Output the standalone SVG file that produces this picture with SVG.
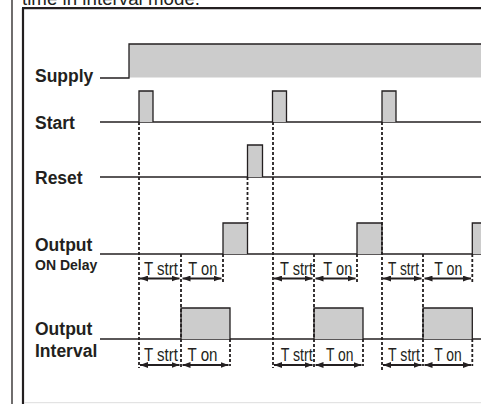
<svg xmlns="http://www.w3.org/2000/svg" width="481" height="404" viewBox="0 0 481 404">
<defs>
<style>
.lbl{font-family:"Liberation Sans",Arial,sans-serif;font-weight:bold;font-size:17.5px;fill:#231f20}
.sm{font-family:"Liberation Sans",Arial,sans-serif;font-weight:bold;font-size:14px;fill:#231f20}
.t{font-family:"Liberation Sans",Arial,sans-serif;font-size:19px;fill:#231f20}
.sig{fill:none;stroke:#231f20;stroke-width:1.3}
.pulse{fill:#cccccc;stroke:#231f20;stroke-width:1.3}
.dash{stroke:#231f20;stroke-width:1.8;stroke-dasharray:3 2;fill:none}
.arr{stroke:#231f20;stroke-width:2;fill:none;marker-start:url(#ah);marker-end:url(#ah)}
</style>
<marker id="ah" viewBox="0 0 8 6" refX="8" refY="3" markerWidth="8" markerHeight="6" orient="auto-start-reverse" markerUnits="userSpaceOnUse">
<path d="M0,0 L8,3 L0,6 z" fill="#231f20"/>
</marker>
</defs>
<rect width="481" height="404" fill="#ffffff"/>
<g id="frame">
<text class="t" x="22" y="4.5" textLength="178" lengthAdjust="spacingAndGlyphs">time in interval mode.</text>
<line x1="12" y1="0" x2="12" y2="404" stroke="#231f20" stroke-width="1.3"/>
<line x1="23" y1="8" x2="23" y2="404" stroke="#231f20" stroke-width="2.2"/>
<line x1="22" y1="8.2" x2="481" y2="8.2" stroke="#231f20" stroke-width="2.2"/>
<line x1="24" y1="402.7" x2="481" y2="402.7" stroke="#dddddd" stroke-width="1"/>
</g>
<g id="supply">
<text class="lbl" x="35" y="81.5">Supply</text>
<rect x="129" y="44" width="353" height="33.5" fill="#cccccc"/>
<path class="sig" d="M100,78 H129 V44 H482"/>
</g>
<g id="start">
<text class="lbl" x="35" y="129">Start</text>
<line class="sig" x1="100" y1="122" x2="481" y2="122"/>
<path class="pulse" d="M139,122 V91 H153 V122"/>
<path class="pulse" d="M272.5,122 V91 H286.5 V122"/>
<path class="pulse" d="M382,122 V91 H396 V122"/>
</g>
<g id="reset">
<text class="lbl" x="35" y="184">Reset</text>
<line class="sig" x1="100" y1="177" x2="481" y2="177"/>
<path class="pulse" d="M247.5,177 V145 H262.5 V177"/>
</g>
<g id="output-on-delay">
<text class="lbl" x="35" y="250.5">Output</text>
<text class="sm" x="35" y="269.5">ON Delay</text>
<line class="sig" x1="100" y1="254" x2="481" y2="254"/>
<path class="pulse" d="M223,254 V223 H247.5 V254"/>
<path class="pulse" d="M357,254 V223 H382 V254"/>
<rect x="472.3" y="223" width="10" height="31" fill="#cccccc"/>
<path class="sig" d="M472.3,254 V223 H483"/>
<text class="t" x="144" y="275" textLength="34" lengthAdjust="spacingAndGlyphs">T strt</text>
<text class="t" x="188.3" y="275" textLength="29" lengthAdjust="spacingAndGlyphs">T on</text>
<text class="t" x="280" y="275" textLength="33" lengthAdjust="spacingAndGlyphs">T strt</text>
<text class="t" x="323.3" y="275" textLength="29" lengthAdjust="spacingAndGlyphs">T on</text>
<text class="t" x="388" y="275" textLength="31" lengthAdjust="spacingAndGlyphs">T strt</text>
<text class="t" x="434.3" y="275" textLength="28" lengthAdjust="spacingAndGlyphs">T on</text>
</g>
<g id="output-interval">
<text class="lbl" x="35" y="335">Output</text>
<text class="lbl" x="35" y="356.5">Interval</text>
<line class="sig" x1="100" y1="339" x2="481" y2="339"/>
<path class="pulse" d="M181,339 V308 H230 V339"/>
<path class="pulse" d="M314,339 V308 H363 V339"/>
<path class="pulse" d="M423,339 V308 H472.3 V339"/>
<text class="t" x="144" y="361" textLength="34" lengthAdjust="spacingAndGlyphs">T strt</text>
<text class="t" x="187.5" y="361" textLength="30" lengthAdjust="spacingAndGlyphs">T on</text>
<text class="t" x="280.7" y="361" textLength="32" lengthAdjust="spacingAndGlyphs">T strt</text>
<text class="t" x="326" y="361" textLength="27.5" lengthAdjust="spacingAndGlyphs">T on</text>
<text class="t" x="388" y="361" textLength="32" lengthAdjust="spacingAndGlyphs">T strt</text>
<text class="t" x="434.3" y="361" textLength="27.5" lengthAdjust="spacingAndGlyphs">T on</text>
</g>
<g id="connectors">
<line class="dash" x1="139" y1="122" x2="139" y2="368"/>
<line class="dash" x1="181" y1="254" x2="181" y2="368"/>
<line class="dash" x1="223" y1="254" x2="223" y2="282"/>
<line class="dash" x1="230" y1="339" x2="230" y2="366"/>
<line class="dash" x1="247.5" y1="177" x2="247.5" y2="223"/>
<line class="dash" x1="273" y1="122" x2="273" y2="368"/>
<line class="dash" x1="314" y1="254" x2="314" y2="368"/>
<line class="dash" x1="357" y1="254" x2="357" y2="282"/>
<line class="dash" x1="363" y1="339" x2="363" y2="366"/>
<line class="dash" x1="382" y1="122" x2="382" y2="371"/>
<line class="dash" x1="423" y1="254" x2="423" y2="366"/>
<line class="dash" x1="472.3" y1="254" x2="472.3" y2="282"/>
<line class="dash" x1="472.3" y1="339" x2="472.3" y2="366"/>
<line class="arr" x1="140" y1="278.5" x2="179.5" y2="278.5"/>
<line class="arr" x1="182.5" y1="278.5" x2="221.5" y2="278.5"/>
<line class="arr" x1="274" y1="278.5" x2="312.5" y2="278.5"/>
<line class="arr" x1="315.5" y1="278.5" x2="355.5" y2="278.5"/>
<line class="arr" x1="383" y1="278.5" x2="421.5" y2="278.5"/>
<line class="arr" x1="424.5" y1="278.5" x2="471" y2="278.5"/>
<line class="arr" x1="140" y1="365" x2="179.5" y2="365"/>
<line class="arr" x1="182.5" y1="365" x2="228.5" y2="365"/>
<line class="arr" x1="274" y1="365" x2="312.5" y2="365"/>
<line class="arr" x1="315.5" y1="365" x2="361.5" y2="365"/>
<line class="arr" x1="383" y1="365" x2="421.5" y2="365"/>
<line class="arr" x1="424.5" y1="365" x2="471" y2="365"/>
</g>
</svg>
